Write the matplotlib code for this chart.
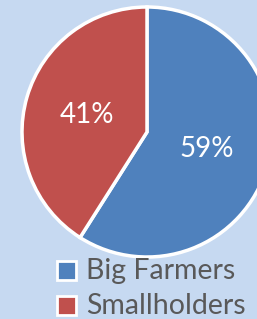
import matplotlib
matplotlib.use("Agg")
import matplotlib.pyplot as plt
from matplotlib.patches import Rectangle

labels = ["Big Farmers", "Smallholders"]
values = [59, 41]
colors = ["#4F81BD", "#C0504D"]
bg = "#C6D9F1"

W, H = 257, 319
fig = plt.figure(figsize=(W / 100, H / 100), dpi=100)
fig.patch.set_facecolor(bg)

cx, cy, r = 147, 132, 125
ax = fig.add_axes([(cx - r) / W, (H - cy - r) / H, 2 * r / W, 2 * r / H])
ax.set_facecolor(bg)
wedges, texts, autotexts = ax.pie(
    values, colors=colors, startangle=90, counterclock=False,
    autopct=lambda p: f"{round(p)}%", pctdistance=0.5, radius=1.0,
    wedgeprops=dict(edgecolor="white", linewidth=2.5),
    textprops=dict(color="white", fontsize=20, family="Lato"),
)
for w in wedges:
    w.set_clip_on(False)
ax.set_xlim(-1.0, 1.0)
ax.set_ylim(-1.0, 1.0)
ax.set_aspect("equal")
ax.axis("off")

# legend (manual placement in figure pixels)
row_baselines = [279, 314]
for label, color, base in zip(labels, colors, row_baselines):
    x0, size = 57, 19
    y_top = base - 18
    fig.patches.append(Rectangle((x0 / W, 1 - (y_top + size) / H), size / W, size / H,
                                 transform=fig.transFigure, facecolor=color,
                                 edgecolor="white", linewidth=2))
    fig.text(86 / W, 1 - base / H, label, ha="left", va="baseline",
             color="#595959", family="Lato", fontsize=20.5)

fig.savefig("out.png", dpi=100, facecolor=bg)
